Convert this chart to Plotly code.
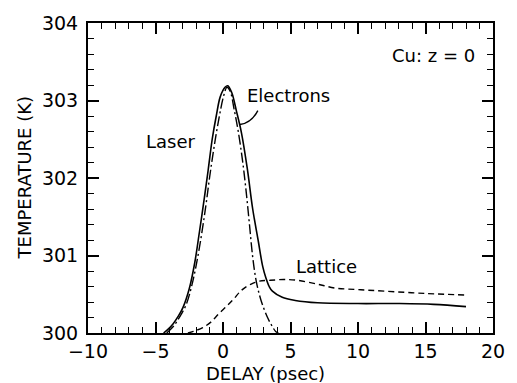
import plotly.graph_objects as go

# Electrons (solid)
elec_t = [-4.4, -4.0, -3.69, -3.3, -2.96, -2.5, -2.1, -1.75, -1.4, -1.1, -0.8, -0.5, -0.2, 0.15, 0.35,
          0.65, 1.0, 1.37, 1.8, 2.2, 2.6, 2.94, 3.18, 3.42, 3.66, 4.39, 5.35, 7.0, 10.0, 13.0, 15.6, 18.0]
elec_T = [300.0, 300.06, 300.12, 300.22, 300.33, 300.57, 300.9, 301.3, 301.72, 302.1, 302.5, 302.8, 303.05,
          303.17, 303.19, 303.1, 302.86, 302.58, 302.12, 301.6, 301.2, 300.86, 300.71, 300.6, 300.54,
          300.46, 300.42, 300.39, 300.38, 300.38, 300.37, 300.34]

# Laser (dash-dot)
laser_t = [-4.17, -3.7, -3.45, -3.1, -2.72, -2.3, -1.81, -1.28, -1.0, -0.67, -0.31, 0.05, 0.29, 0.53,
           0.82, 1.13, 1.45, 1.7, 1.95, 2.2, 2.46, 2.82, 3.3, 3.6, 3.9, 4.1]
laser_T = [300.0, 300.08, 300.14, 300.24, 300.37, 300.62, 301.04, 301.63, 302.0, 302.39, 302.76, 303.06,
           303.17, 303.12, 302.89, 302.6, 302.22, 301.85, 301.42, 300.98, 300.67, 300.42, 300.2, 300.1,
           300.02, 300.0]

# Lattice (dashed)
latt_t = [-2.6, -2.2, -1.5, -0.9, -0.3, 0.3, 0.8, 1.3, 1.74, 2.2, 2.7, 3.5, 4.5, 5.5, 7.0, 8.3, 10.0,
          12.0, 15.0, 18.0]
latt_T = [300.0, 300.02, 300.07, 300.14, 300.25, 300.35, 300.44, 300.54, 300.6, 300.64, 300.67, 300.68,
          300.69, 300.68, 300.63, 300.58, 300.56, 300.54, 300.51, 300.49]

FONT = "DejaVu Sans"
fig = go.Figure()
fig.add_trace(go.Scatter(x=elec_t, y=elec_T, mode="lines", line=dict(color="black", width=1.6, shape="spline")))
fig.add_trace(go.Scatter(x=laser_t, y=laser_T, mode="lines",
                         line=dict(color="black", width=1.4, dash="10px,3px,2px,3px", shape="spline")))
fig.add_trace(go.Scatter(x=latt_t, y=latt_T, mode="lines",
                         line=dict(color="black", width=1.4, dash="6px,4px", shape="spline")))

axis_common = dict(showgrid=False, zeroline=False, showline=True, linecolor="black", linewidth=2,
                   mirror="allticks", ticks="inside", ticklen=11, tickwidth=1.5, tickcolor="black",
                   tickfont=dict(family=FONT, size=19, color="black"))
fig.update_xaxes(range=[-10, 20], tickmode="linear", tick0=0, dtick=5,
                 minor=dict(dtick=1, tick0=0, ticks="inside", ticklen=6, tickwidth=1.2, tickcolor="black",
                            showgrid=False),
                 **axis_common)
fig.update_yaxes(range=[300, 304], tickmode="linear", tick0=300, dtick=1,
                 minor=dict(dtick=0.2, tick0=300, ticks="inside", ticklen=6, tickwidth=1.2, tickcolor="black",
                            showgrid=False),
                 ticklabelstandoff=4, **axis_common)

ann_font = dict(family=FONT, size=18, color="black")
fig.add_annotation(text="Cu: z = 0", x=15.6, y=303.58, xref="x", yref="y", showarrow=False, font=ann_font)
fig.add_annotation(text="Electrons", x=4.84, y=303.06, xref="x", yref="y", showarrow=False, font=ann_font)
fig.add_annotation(text="Laser", x=-3.83, y=302.47, xref="x", yref="y", showarrow=False, font=ann_font)
fig.add_annotation(text="Lattice", x=7.66, y=300.86, xref="x", yref="y", showarrow=False, font=ann_font)
fig.add_annotation(text="DELAY (psec)", x=0.439, y=-0.132, xref="paper", yref="paper", showarrow=False,
                   xanchor="center", yanchor="middle", font=dict(family=FONT, size=18, color="black"))
fig.add_annotation(text="TEMPERATURE (K)", x=-0.157, y=0.5, xref="paper", yref="paper", showarrow=False,
                   xanchor="center", yanchor="middle", textangle=-90,
                   font=dict(family=FONT, size=18, color="black"))
# leader line from "Electrons" label to curve
fig.add_shape(type="path", xref="x", yref="y", path="M 1.25,302.69 Q 2.1,302.71 2.58,302.87",
              line=dict(color="black", width=1.4))

fig.update_layout(width=517, height=383, margin=dict(l=88, r=14, t=15, b=50),
                  paper_bgcolor="white", plot_bgcolor="white", showlegend=False)
fig.write_html("out.html")
